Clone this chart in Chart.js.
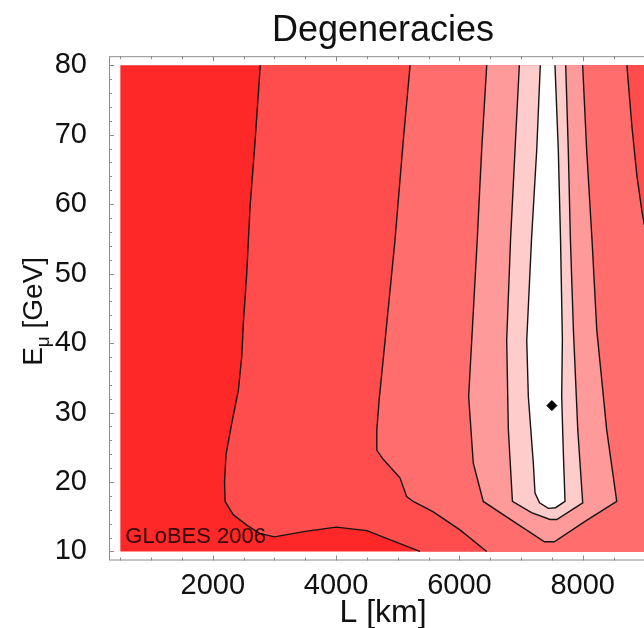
<!DOCTYPE html>
<html lang="es">
<head>
<meta charset="utf-8">
<title>Degeneracies</title>
<script src="https://cdn.jsdelivr.net/npm/chart.js@4.4.1/dist/chart.umd.min.js"></script>
<style>
  html, body { margin: 0; padding: 0; background: #fff; overflow: hidden; }
  #lienzo { position: relative; width: 670px; height: 628px; }
</style>
</head>
<body>
<div id="lienzo"><canvas id="grafica"></canvas></div>
<script>
// --- DATOS ---
const ticksL = [2000, 4000, 6000, 8000];
const ticksE = [10, 20, 30, 40, 50, 60, 70, 80];
const limitesL = [500, 9000];
const limitesE = [10, 80];
const mejorAjuste = [[7500, 31]];

// curvas de nivel, pares [L, E]
const contornoA = [[2770,80],[2685,69],[2604,59.6],[2550,50],[2495,42.8],[2469,38],[2414,33.2],[2306,28.4],[2215,24],[2190,20],[2200,17.2],[2330,15.3],[2550,13.8],[2760,12.6],[3000,12.1],[3500,12.9],[4000,13.5],[4500,13.0],[4900,11.6],[5360,10]];
const contornoBizq = [[5200,80],[5090,69.2],[4955,54.8],[4795,40.4],[4700,32],[4660,27.5],[4660,24.6],[4760,23.3],[5036,20.6],[5144,17.9],[5250,17.2],[5577,15.7],[6009,13.1],[6443,10]];
const contornoBder = [[8716,80],[8800,71],[8880,64],[8960,59],[9000,57]];
const contornoC = [[6443,80],[6361,67.8],[6290,55],[6200,40.4],[6150,32.3],[6225,22.7],[6387,17.2],[6900,14.2],[7380,11.4],[7540,11.4],[8050,14.4],[8552,17.2],[8389,27.5],[8228,41.9],[8150,55],[8064,67.8],[7999,80]];
const contornoD = [[6972,80],[6902,67.8],[6830,55],[6767,40.4],[6794,27.5],[6860,17.2],[7170,15.6],[7470,14.6],[7580,14.6],[8000,17],[7920,27.5],[7849,41.9],[7800,55],[7766,67.8],[7724,80]];
const contornoE = [[7312,80],[7254,67.8],[7170,55],[7092,40.4],[7118,32.3],[7199,22.7],[7226,18.4],[7300,17],[7443,16.2],[7560,16.3],[7713,17.2],[7686,24.1],[7659,32.3],[7670,40.5],[7640,55],[7604,67.8],[7550,80]];

// --- ESTILO ---
const FUENTE = '"Liberation Sans", Arial, sans-serif';
const coloresBanda = ['#ff2828', '#ff4c4c', '#ff6d6d', '#ff9a9a', '#ffcccc', '#ffffff'];
const pasoMenorL = 500;
const pasoMenorE = 2;

const xy = pts => pts.map(([L, E]) => ({ x: L, y: E }));

// bandas rellenas, de la mas oscura (fondo) a la blanca
const [L0, L1] = limitesL, [E0, E1] = limitesE;
const bandas = [
  [[L0,E0],[L1,E0],[L1,E1],[L0,E1]],
  [...contornoA, [L1,E0], [L1,E1]],
  [...contornoBizq, [L1,E0], ...contornoBder.slice().reverse()],
  contornoC,
  contornoD,
  contornoE
];

const datasets = [
  { data: xy(mejorAjuste), pointStyle: 'rectRot', pointRadius: 5, borderWidth: 1,
    backgroundColor: '#000', borderColor: '#000' },
  ...[contornoE, contornoD, contornoC, contornoBder, contornoBizq, contornoA].map(c => ({
    data: xy(c), showLine: true, pointRadius: 0, borderColor: '#141414', borderWidth: 1.4, fill: false
  })),
  ...bandas.map((b, i) => ({
    data: xy(b), showLine: true, pointRadius: 0, borderWidth: 0, borderColor: 'rgba(0,0,0,0)',
    backgroundColor: coloresBanda[i], fill: 'shape'
  })).reverse()
];

// --- MARCO CON MARCAS HACIA DENTRO ---
const marco = {
  id: 'marco',
  afterDraw(chart) {
    const { ctx, chartArea: a, scales: { x, y } } = chart;
    ctx.save();
    ctx.strokeStyle = '#8c8c8c';
    ctx.lineWidth = 1;
    ctx.strokeRect(a.left + 0.5, a.top + 0.5, a.right - a.left - 1, a.bottom - a.top - 1);
    ctx.beginPath();
    for (let v = L0; v <= L1; v += pasoMenorL) {
      const px = Math.round(x.getPixelForValue(v)) + 0.5;
      const len = ticksL.includes(v) ? 5 : 3;
      ctx.moveTo(px, a.bottom); ctx.lineTo(px, a.bottom - len);
      ctx.moveTo(px, a.top); ctx.lineTo(px, a.top + len);
    }
    for (let v = E0; v <= E1; v += pasoMenorE) {
      const py = Math.round(y.getPixelForValue(v)) + 0.5;
      const len = ticksE.includes(v) ? 5 : 3;
      ctx.moveTo(a.left, py); ctx.lineTo(a.left + len, py);
      ctx.moveTo(a.right, py); ctx.lineTo(a.right - len, py);
    }
    ctx.stroke();

    // titulo vertical con subindice
    const cy = (a.top + a.bottom) / 2 + 3;
    ctx.translate(42, cy);
    ctx.rotate(-Math.PI / 2);
    ctx.fillStyle = '#111';
    ctx.textBaseline = 'alphabetic';
    ctx.font = `28px ${FUENTE}`;
    const wE = ctx.measureText('E').width;
    const wResto = ctx.measureText(' [GeV]').width;
    ctx.font = `19px ${FUENTE}`;
    const wMu = ctx.measureText('μ').width;
    let px = -(wE + wMu + wResto) / 2;
    ctx.font = `28px ${FUENTE}`;
    ctx.fillText('E', px, 0); px += wE;
    ctx.font = `19px ${FUENTE}`;
    ctx.fillText('μ', px, 7); px += wMu;
    ctx.font = `28px ${FUENTE}`;
    ctx.fillText(' [GeV]', px, 0);
    ctx.restore();
  }
};

// marca de agua en la esquina inferior izquierda
const firma = {
  id: 'firma',
  afterDatasetsDraw(chart) {
    const { ctx, scales: { x, y } } = chart;
    ctx.save();
    ctx.font = `22px ${FUENTE}`;
    ctx.fillStyle = 'rgba(20,0,0,0.88)';
    ctx.textBaseline = 'alphabetic';
    ctx.fillText('GLoBES 2006', x.getPixelForValue(L0) + 5, y.getPixelForValue(E0) - 8);
    ctx.restore();
  }
};

const fuenteTicks = { family: FUENTE, size: 29 };

new Chart(document.getElementById('grafica'), {
  type: 'scatter',
  data: { datasets },
  plugins: [firma, marco],
  options: {
    responsive: true,
    maintainAspectRatio: false,
    animation: false,
    events: [],
    layout: { padding: { left: 0, right: 13, top: 0, bottom: 0 } },
    plugins: {
      legend: { display: false },
      tooltip: { enabled: false },
      title: {
        display: true, text: 'Degeneracies', fullSize: false, color: '#111',
        font: { family: FUENTE, size: 36, weight: 'normal' },
        padding: { top: 9, bottom: 4 }
      }
    },
    scales: {
      x: {
        type: 'linear', min: 316, max: 9205,
        grid: { display: false }, border: { display: false },
        afterBuildTicks: s => { s.ticks = ticksL.map(v => ({ value: v })); },
        afterFit: s => { s.height = 67.5; },
        ticks: { color: '#111', font: fuenteTicks, padding: 0, maxRotation: 0, callback: v => String(v) },
        title: {
          display: true, text: 'L [km]', color: '#111',
          font: { family: FUENTE, size: 32 }, padding: { top: 0, bottom: -4 }
        }
      },
      y: {
        type: 'linear', min: 8.7, max: 81.3,
        grid: { display: false }, border: { display: false },
        afterBuildTicks: s => { s.ticks = ticksE.map(v => ({ value: v })); },
        afterFit: s => { s.width = 109; },
        ticks: { color: '#111', font: fuenteTicks, padding: 14 }
      }
    }
  }
});
</script>
</body>
</html>
